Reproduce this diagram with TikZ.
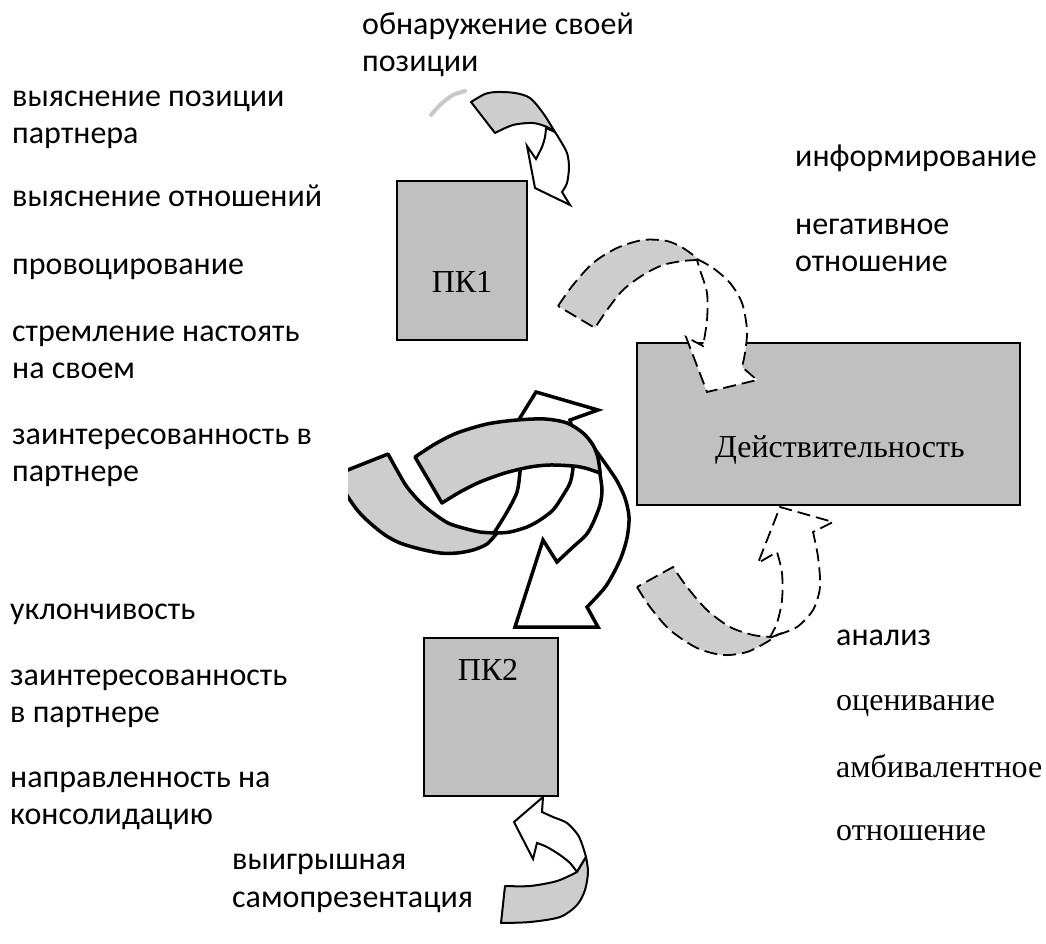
\documentclass[tikz,border=0pt]{standalone}
\usepackage{fontspec}
\setmainfont{Carlito}
\newfontfamily\serifcyr{Liberation Serif}
\definecolor{boxgray}{RGB}{192,192,192}
\definecolor{ribgray}{RGB}{205,205,205}
\definecolor{faint}{RGB}{200,200,200}
\begin{document}
\begin{tikzpicture}[x=1pt,y=-1pt,
  lbl/.style={anchor=base west,inner sep=0pt,font=\fontsize{32}{37}\selectfont},
  slbl/.style={anchor=base west,inner sep=0pt,font=\serifcyr\fontsize{32}{37}\selectfont},
  pbox/.style={draw,line width=2pt,fill=boxgray,inner sep=0pt},
  rib/.style={fill=ribgray,draw,line width=2pt,line join=round},
  wht/.style={fill=white,draw,line width=2pt,line join=miter},
  dsh/.style={dash pattern=on 13pt off 6pt,line width=1.8pt},
  thick3/.style={line width=3.5pt}]
\fill[white] (0,0) rectangle (1046,944);
\useasboundingbox (0,0) rectangle (1046,944);

% ---------------- boxes
\node[pbox,minimum width=130pt,minimum height=159pt] (pk1) at (462,260.5) {};
\node[slbl,anchor=base] (pk1t) at (462,292) {ПК1};
\node[pbox,minimum width=383pt,minimum height=162pt] (real) at (828.5,424) {};
\node[slbl] (realt) at (715,457) {Действительность};
\node[pbox,minimum width=134pt,minimum height=158pt] (pk2) at (491,717) {};
\node[slbl,anchor=base] (pk2t) at (488,680) {ПК2};

% ---------------- top arrow (solid, thin)
\draw[faint,line width=4pt,line cap=round] plot[smooth] coordinates {(431,115) (441,104) (453,95) (465,91)};
\path[wht] (555,132) -- plot[smooth] coordinates {(555,132) (560,140) (567,153) (569,167) (567,183) (562,192)}
  -- (570,205) -- (535,188) -- (527,146) -- (536,159)
  -- plot[smooth] coordinates {(536,159) (542,147) (545,137) (546,128)} -- cycle;
\path[rib] (471,102) -- plot[smooth] coordinates {(471,102) (485,94) (497,92) (515,93) (530,98) (543,113) (555,132)}
  -- plot[smooth] coordinates {(555,132) (547,127) (533,123) (513,125) (495,133)} -- cycle;

% ---------------- upper right dashed arrow
\path[fill=white,draw,dsh] (697,259) -- plot[smooth] coordinates {(697,259) (713,268) (730,283) (742,303) (747,330) (745,353) (742,367)}
  -- (757,380) -- (707,392) -- (686,337) -- (703,346)
  -- plot[smooth] coordinates {(703,346) (707,320) (707,293) (700,270) (697,260)} -- cycle;
\path[fill=ribgray,draw,dsh] (558,306) -- plot[smooth] coordinates {(558,306) (573,285) (593,263) (617,248) (643,240) (667,241) (683,248) (697,258)}
  -- plot[smooth] coordinates {(697,260) (683,261) (663,265) (643,275) (623,290) (607,310) (595,328)} -- cycle;

% ---------------- lower right dashed arrow
\path[fill=white,draw,dsh] (777,635) -- plot[smooth] coordinates {(777,635) (797,627) (813,610) (820,587) (818,557) (813,532)}
  -- (833,522) -- (780,507) -- (758,563) -- (777,552)
  -- plot[smooth] coordinates {(777,552) (782,573) (782,600) (777,623) (770,637)} -- cycle;
\path[fill=ribgray,draw,dsh] (637,587) -- plot[smooth] coordinates {(637,587) (650,607) (670,630) (697,648) (723,655) (747,652) (767,642) (777,635)}
  -- plot[smooth] coordinates {(772,637) (753,635) (730,627) (707,610) (687,587) (673,567)} -- cycle;

% ---------------- bottom arrow (solid, thin)
\path[wht] (586,857) -- plot[smooth] coordinates {(586,857) (583,847) (578,835) (567,823) (553,817) (542,812)}
  -- (543,797) -- (514,822) -- (533,859) -- (537,843)
  -- plot[smooth] coordinates {(537,843) (547,847) (560,855) (570,863) (577,872)} -- cycle;
\path[rib] (505,886) -- plot[smooth] coordinates {(505,886) (530,886) (557,881) (577,872)} -- (586,857)
  -- plot[smooth] coordinates {(586,857) (588,872) (585,890) (577,905) (560,917) (530,922) (501,923)} -- cycle;

% ---------------- central big arrow
% down arrow (white)
\path[wht,thick3] (597,452) -- plot[smooth] coordinates {(597,452) (607,466) (617,481) (625,498) (629,517) (627,538) (620,560) (606,586) (587,607)}
  -- (598,627) -- (515,627) -- (543,540) -- (557,562)
  -- plot[smooth] coordinates {(557,562) (573,547) (586,535) (593,523) (600,505) (602,490) (600,474)} -- cycle;
% up arrow (white, behind the front ribbon)
\path[wht,thick3] (494,533) -- plot[smooth] coordinates {(494,533) (507,512) (517,492) (520,472) (522,452)}
  -- (505,442) -- (536,392) -- (598,410) -- (570,420) -- (575,440)
  -- plot[smooth] coordinates {(575,440) (573,468) (570,483) (562,497) (553,510) (540,520) (527,527) (510,532) (497,533)} -- cycle;
% left ribbon (clipped at the left)
\begin{scope}
\clip (348,0) rectangle (1046,944);
\path[rib,thick3] (330,477) -- (388,454)
  -- plot[smooth] coordinates {(388,454) (398,472) (407,487) (420,502) (433,513) (448,523) (463,528) (480,532) (497,533)}
  -- plot[smooth] coordinates {(497,533) (487,544) (473,550) (457,553) (440,553) (420,549) (400,543) (385,535) (370,523) (358,511) (348,497) (338,480)} -- cycle;
\end{scope}
% front ribbon
\path[rib,thick3] (415,457) -- plot[smooth] coordinates {(415,457) (435,444) (457,433) (487,424) (517,420) (545,419) (567,423) (583,433) (593,445) (598,458) (600,472)}
  -- plot[smooth] coordinates {(600,473) (585,468) (573,466) (550,465) (530,467) (505,473) (480,482) (460,492) (442,503)} -- cycle;

% ---------------- texts
\node[lbl] (t1) at (362,35) {обнаружение своей};
\node[lbl] (t2) at (362,72) {позиции};
\node[lbl] (t3) at (12,107) {выяснение позиции};
\node[lbl] (t4) at (12,144) {партнера};
\node[lbl] (t5) at (12,207) {выяснение отношений};
\node[lbl] (t6) at (12,274) {провоцирование};
\node[lbl] (t7) at (12,341) {стремление настоять};
\node[lbl] (t8) at (12,378) {на своем};
\node[lbl] (t9) at (12,444) {заинтересованность в};
\node[lbl] (t10) at (12,481) {партнере};
\node[lbl] (t11) at (10,619) {уклончивость};
\node[lbl] (t12) at (10,685) {заинтересованность};
\node[lbl] (t13) at (10,722) {в партнере};
\node[lbl] (t14) at (10,787) {направленность на};
\node[lbl] (t15) at (10,824) {консолидацию};
\node[lbl] (t16) at (232,869) {выигрышная};
\node[lbl] (t17) at (232,907) {самопрезентация};
\node[lbl] (t18) at (795,167) {информирование};
\node[lbl] (t19) at (795,234) {негативное};
\node[lbl] (t20) at (795,271) {отношение};
\node[lbl] (t21) at (836,645) {анализ};
\node[slbl] (t22) at (836,710) {оценивание};
\node[slbl] (t23) at (836,777) {амбивалентное};
\node[slbl] (t24) at (836,840) {отношение};
\end{tikzpicture}
\end{document}
